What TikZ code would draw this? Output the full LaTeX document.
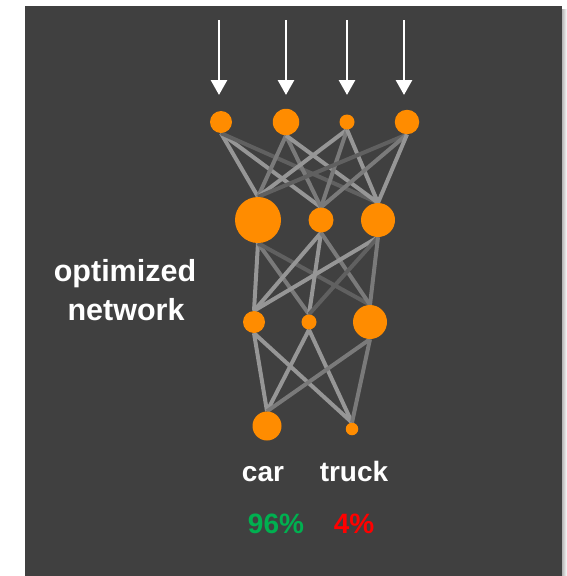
\documentclass[tikz,border=0pt]{standalone}
\usepackage{fontspec}
\setmainfont{Liberation Sans}
\usetikzlibrary{arrows.meta}
\pgfdeclarelayer{bg}
\pgfdeclarelayer{edges}
\pgfsetlayers{bg,edges,main}
\definecolor{panel}{RGB}{64,64,64}
\definecolor{neuron}{RGB}{255,140,0}
\definecolor{wlight}{RGB}{150,150,150}
\definecolor{wmid}{RGB}{122,122,122}
\definecolor{wdark}{RGB}{96,96,96}
\definecolor{goodgreen}{RGB}{0,176,80}
\tikzset{
  neuronnode/.style={circle, fill=neuron, draw=none, inner sep=0pt, minimum size=#1},
  weight/.style={line width=4pt, draw=#1},
  inarrow/.style={line width=2.8pt, white, -{Triangle[width=16pt,length=15pt]}},
  caption/.style={text=white, font=\bfseries\fontsize{30.5}{37}\selectfont, anchor=base, inner sep=0pt},
  label/.style={font=\bfseries\fontsize{28}{34}\selectfont, anchor=base, inner sep=0pt}
}
\begin{document}
\begin{tikzpicture}[x=1pt, y=-1pt]
  \useasboundingbox (0,0) rectangle (567,576);
  \begin{pgfonlayer}{bg}
    \shade[left color=gray!70, right color=white] (561,9) rectangle (567,576);
    \fill[panel] (25,6) rectangle (562,576);
  \end{pgfonlayer}

  % input layer
  \node[neuronnode=22pt]   (a1) at (221,122) {};
  \node[neuronnode=26.5pt] (a2) at (286,122) {};
  \node[neuronnode=15pt]   (a3) at (347,122) {};
  \node[neuronnode=24.5pt] (a4) at (407,122) {};
  % first hidden layer
  \node[neuronnode=46pt]   (b1) at (258,220) {};
  \node[neuronnode=25pt]   (b2) at (321,220) {};
  \node[neuronnode=34pt]   (b3) at (378,220) {};
  % second hidden layer
  \node[neuronnode=22pt]   (c1) at (254,322) {};
  \node[neuronnode=15pt]   (c2) at (309,322) {};
  \node[neuronnode=34pt]   (c3) at (370,322) {};
  % output layer
  \node[neuronnode=29pt]   (d1) at (267,426) {};
  \node[neuronnode=12.5pt] (d2) at (352,429) {};

  \begin{pgfonlayer}{edges}
    \draw[weight=wlight] (a1.south) -- (b1.north);
    \draw[weight=wlight] (a1.south) -- (b2.north);
    \draw[weight=wdark]  (a1.south) -- (b3.north);
    \draw[weight=wmid]   (a2.south) -- (b1.north);
    \draw[weight=wmid]   (a2.south) -- (b2.north);
    \draw[weight=wlight] (a2.south) -- (b3.north);
    \draw[weight=wlight] (a3.south) -- (b1.north);
    \draw[weight=wmid]   (a3.south) -- (b2.north);
    \draw[weight=wlight] (a3.south) -- (b3.north);
    \draw[weight=wdark]  (a4.south) -- (b1.north);
    \draw[weight=wmid]   (a4.south) -- (b2.north);
    \draw[weight=wlight] (a4.south) -- (b3.north);

    \draw[weight=wlight] (b1.south) -- (c1.north);
    \draw[weight=wmid]   (b1.south) -- (c2.north);
    \draw[weight=wdark]  (b1.south) -- (c3.north);
    \draw[weight=wlight] (b2.south) -- (c1.north);
    \draw[weight=wlight] (b2.south) -- (c2.north);
    \draw[weight=wmid]   (b2.south) -- (c3.north);
    \draw[weight=wlight] (b3.south) -- (c1.north);
    \draw[weight=wdark]  (b3.south) -- (c2.north);
    \draw[weight=wmid]   (b3.south) -- (c3.north);

    \draw[weight=wlight] (c1.south) -- (d1.north);
    \draw[weight=wlight] (c1.south) -- (d2.north);
    \draw[weight=wlight] (c2.south) -- (d1.north);
    \draw[weight=wlight] (c2.south) -- (d2.north);
    \draw[weight=wmid]   (c3.south) -- (d1.north);
    \draw[weight=wmid]   (c3.south) -- (d2.north);
  \end{pgfonlayer}

  % input arrows
  \coordinate (s1) at (219,20); \coordinate (e1) at (219,95);
  \coordinate (s2) at (286,20); \coordinate (e2) at (286,95);
  \coordinate (s3) at (347,20); \coordinate (e3) at (347,95);
  \coordinate (s4) at (404,20); \coordinate (e4) at (404,95);
  \draw[inarrow] (s1) -- (e1);
  \draw[inarrow] (s2) -- (e2);
  \draw[inarrow] (s3) -- (e3);
  \draw[inarrow] (s4) -- (e4);

  % labels
  \node[caption] (cap1) at (125,281.5) {optimized};
  \node[caption] (cap2) at (126,320) {network};
  \node[label, text=white] (lcar)   at (263,481.5) {car};
  \node[label, text=white] (ltruck) at (354,481.5) {truck};
  \node[label, text=goodgreen] (pcar)   at (276,533) {96\%};
  \node[label, text=red]       (ptruck) at (354,533) {4\%};
\end{tikzpicture}
\end{document}
